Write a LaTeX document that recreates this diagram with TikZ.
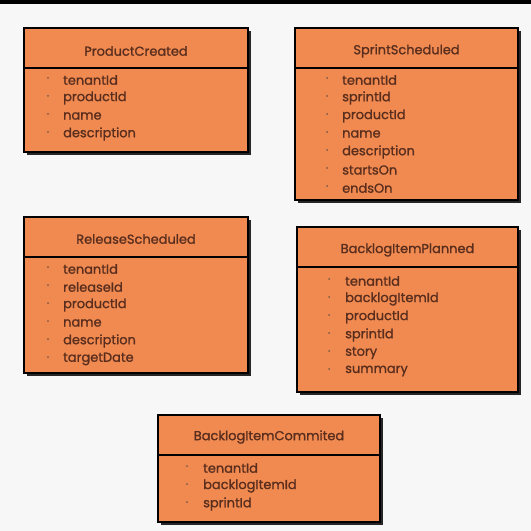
\documentclass[tikz,border=0pt]{standalone}
\usepackage{fontspec}
\setmainfont{Poppins}
\newfontfamily\evfont{Poppins}[FakeBold=1.2]
\definecolor{bg}{HTML}{F7F7F7}
\definecolor{boxfill}{HTML}{F08A50}
\definecolor{txt}{HTML}{5A2E1E}
\tikzset{
  evbox/.style={fill=boxfill, draw=black, line width=1.6bp},
  evshadow/.style={fill=black!85},
  evtitle/.style={text=txt, font=\evfont\fontsize{13}{15}\selectfont, anchor=center},
  evitem/.style={text=txt, font=\evfont\fontsize{13}{15}\selectfont, anchor=west, inner sep=0pt},
  evbullet/.style={fill=txt!80, circle, inner sep=0pt, minimum size=2bp},
}
% #1 name, #2 x0, #3 y0, #4 x1, #5 y1, #6 divider y, #7 title y, #8 title
\newcommand{\evboxdraw}[8]{%
  \fill[evshadow] (#2+3,#3+3) rectangle (#4+3,#5+3);
  \draw[evbox] (#2,#3) rectangle (#4,#5);
  \draw[line width=1.4bp] (#2,#6) -- (#4,#6);
  \node[evtitle] (#1) at ({(#2+#4)/2},#7) {#8};
}
\begin{document}
\begin{tikzpicture}[x=1bp,y=-1bp]
\fill[bg] (0,0) rectangle (531,531);
\fill[black] (0,0) rectangle (531,4);
\useasboundingbox (0,0) rectangle (531,531);

% ProductCreated
\evboxdraw{pc}{24}{28}{248}{152}{68}{51}{ProductCreated}
\foreach \t [count=\i] in {tenantId,productId,name,description}{
  \node[evbullet] (pcb\i) at (48,{60+18*\i}) {};
  \node[evitem] (pci\i) at (63,{62+18*\i}) {\t};
}

% SprintScheduled
\evboxdraw{ss}{295}{28}{518}{200}{68}{51}{SprintScheduled}
\foreach \t [count=\i] in {tenantId,sprintId,productId,name,description,startsOn,endsOn}{
  \node[evbullet] (ssb\i) at (327,{60+18*\i}) {};
  \node[evitem] (ssi\i) at (342,{62+18*\i}) {\t};
}

% ReleaseScheduled
\evboxdraw{rs}{24}{217}{248}{373}{257}{239}{ReleaseScheduled}
\foreach \t [count=\i] in {tenantId,releaseId,productId,name,description,targetDate}{
  \node[evbullet] (rsb\i) at (48,{249+18*\i}) {};
  \node[evitem] (rsi\i) at (63,{251+18*\i}) {\t};
}

% BacklogItemPlanned
\evboxdraw{bp}{297}{227}{518}{392}{267}{250}{BacklogItemPlanned}
\foreach \t [count=\i] in {tenantId,backlogItemId,productId,sprintId,story,summary}{
  \node[evbullet] (bpb\i) at (329,{261+18*\i}) {};
  \node[evitem] (bpi\i) at (345,{263+18*\i}) {\t};
}

% BacklogItemCommited
\evboxdraw{bc}{158}{415}{380}{522}{455}{437}{BacklogItemCommited}
\foreach \t [count=\i] in {tenantId,backlogItemId,sprintId}{
  \node[evbullet] (bcb\i) at (187,{448+18*\i}) {};
  \node[evitem] (bci\i) at (203,{450+18*\i}) {\t};
}
\end{tikzpicture}
\end{document}
